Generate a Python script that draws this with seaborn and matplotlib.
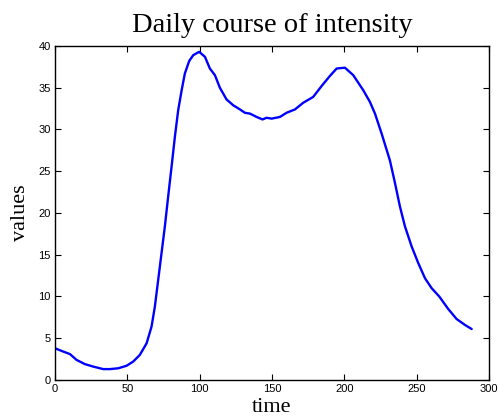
import numpy as np
import pandas as pd
import matplotlib
matplotlib.use("Agg")
import matplotlib.pyplot as plt
import seaborn as sns

# Daily intensity profile (5-minute steps over one day)
time = [0, 5.8, 10.4, 15, 20.7, 26.5, 33.4, 38, 43.8, 49.5, 54.1, 58.7,
        63.4, 66.8, 69.1, 71.4, 73.7, 76.0, 78.3, 80.6, 82.9, 85.2, 87.6,
        89.8, 92.8, 95.6, 99.7, 103.7, 107.1, 110.6, 114.0, 118.6, 123.2,
        127.9, 131.3, 134.8, 139.4, 143.5, 146.3, 149.8, 155.5, 160.1, 165.9,
        171.6, 178.5, 184.3, 190.0, 194.7, 200.4, 206.2, 210.8, 213.1, 217.7,
        221.2, 225.8, 231.5, 235.0, 238.4, 241.9, 246.5, 251.1, 255.7, 260.3,
        265.6, 271.8, 277.6, 283.3, 288.0]
values = [3.8, 3.4, 3.1, 2.4, 1.9, 1.6, 1.3, 1.3, 1.4, 1.7, 2.2, 3.0, 4.4,
          6.4, 8.8, 12.0, 15.2, 18.4, 22.0, 25.5, 29.1, 32.3, 34.7, 36.7,
          38.2, 38.9, 39.3, 38.7, 37.3, 36.5, 35.0, 33.6, 32.9, 32.4, 32.0,
          31.9, 31.5, 31.2, 31.4, 31.3, 31.5, 32.0, 32.4, 33.2, 33.9, 35.2,
          36.4, 37.3, 37.4, 36.5, 35.3, 34.7, 33.3, 31.9, 29.5, 26.3, 23.6,
          20.8, 18.4, 16.0, 14.0, 12.2, 11.0, 10.0, 8.5, 7.3, 6.6, 6.1]

xticks = [0, 50, 100, 150, 200, 250, 300]
yticks = [0, 5, 10, 15, 20, 25, 30, 35, 40]

df = pd.DataFrame({"time": time, "values": values})

sns.set_theme(style="white")
plt.rcParams["font.family"] = ["Liberation Sans", "DejaVu Sans"]

fig = plt.figure(figsize=(4.99, 4.18), dpi=100)
ax = fig.add_axes([0.110, 0.091, 0.870, 0.799])

sns.lineplot(data=df, x="time", y="values", color="#0000ff", linewidth=1.7,
             ax=ax, legend=False, sort=False)

ax.set_xlim(0, 300)
ax.set_ylim(0, 40)
ax.set_xticks(xticks)
ax.set_yticks(yticks)
ax.tick_params(direction="in", length=4, width=0.8, colors="black",
               labelsize=8, top=True, right=True, bottom=True, left=True,
               pad=3)
for s in ax.spines.values():
    s.set_visible(True)
    s.set_color("black")
    s.set_linewidth(1.0)

serif = ["Liberation Serif", "DejaVu Serif"]
ax.set_title("Daily course of intensity", family=serif, fontsize=20.5,
             color="black", pad=10)
ax.set_xlabel("time", family=serif, fontsize=16, color="black", labelpad=0)
ax.xaxis.set_label_coords(0.5, -0.055)
ax.xaxis.label.set_va("top")
ax.set_ylabel("values", family=serif, fontsize=16, color="black", labelpad=6)

fig.savefig("out.png", dpi=100)
